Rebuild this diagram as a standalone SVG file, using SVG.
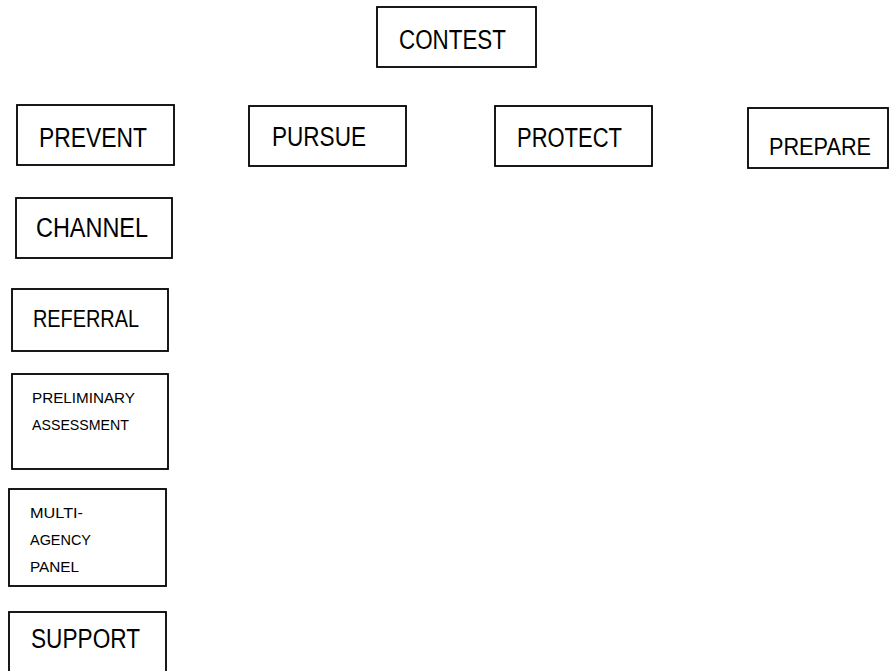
<svg xmlns="http://www.w3.org/2000/svg" width="891" height="671" viewBox="0 0 891 671">
<style>
.box{fill:#fff;stroke:#000;stroke-width:1.8}
.t{font-family:"Liberation Sans",Arial,sans-serif;fill:#000}
.big{font-size:27px}
.mid{font-size:23px}
.sm{font-size:15.5px}
</style>
<rect width="891" height="671" fill="#fff"/>
<g id="contest"><rect class="box" x="377" y="7" width="159" height="60"/><text class="t big" x="399" y="49" textLength="107" lengthAdjust="spacingAndGlyphs">CONTEST</text></g>
<g id="prevent"><rect class="box" x="17" y="105" width="157" height="60"/><text class="t big" x="39" y="147" textLength="108" lengthAdjust="spacingAndGlyphs">PREVENT</text></g>
<g id="pursue"><rect class="box" x="249" y="106" width="157" height="60"/><text class="t big" x="272" y="146" textLength="94" lengthAdjust="spacingAndGlyphs">PURSUE</text></g>
<g id="protect"><rect class="box" x="495" y="106" width="157" height="60"/><text class="t big" x="517" y="147" textLength="105" lengthAdjust="spacingAndGlyphs">PROTECT</text></g>
<g id="prepare"><rect class="box" x="748" y="108" width="140" height="60"/><text class="t" style="font-size:24px" x="769" y="155" textLength="102" lengthAdjust="spacingAndGlyphs">PREPARE</text></g>
<g id="channel"><rect class="box" x="16" y="198" width="156" height="60"/><text class="t big" x="36" y="237" textLength="112" lengthAdjust="spacingAndGlyphs">CHANNEL</text></g>
<g id="referral"><rect class="box" x="12" y="289" width="156" height="62"/><text class="t mid" x="33" y="327" textLength="106" lengthAdjust="spacingAndGlyphs">REFERRAL</text></g>
<g id="preliminary"><rect class="box" x="12" y="374" width="156" height="95"/><text class="t sm" x="32" y="403" textLength="103" lengthAdjust="spacingAndGlyphs">PRELIMINARY</text><text class="t sm" x="32" y="430" textLength="97" lengthAdjust="spacingAndGlyphs">ASSESSMENT</text></g>
<g id="panel"><rect class="box" x="9" y="489" width="157" height="97"/><text class="t sm" x="30" y="518" textLength="53" lengthAdjust="spacingAndGlyphs">MULTI-</text><text class="t sm" x="30" y="545" textLength="61" lengthAdjust="spacingAndGlyphs">AGENCY</text><text class="t sm" x="30" y="572" textLength="49" lengthAdjust="spacingAndGlyphs">PANEL</text></g>
<g id="support"><rect class="box" x="9" y="612" width="157" height="70"/><text class="t big" x="31" y="648" textLength="109" lengthAdjust="spacingAndGlyphs">SUPPORT</text></g>
<g id="connectors"></g>
</svg>
